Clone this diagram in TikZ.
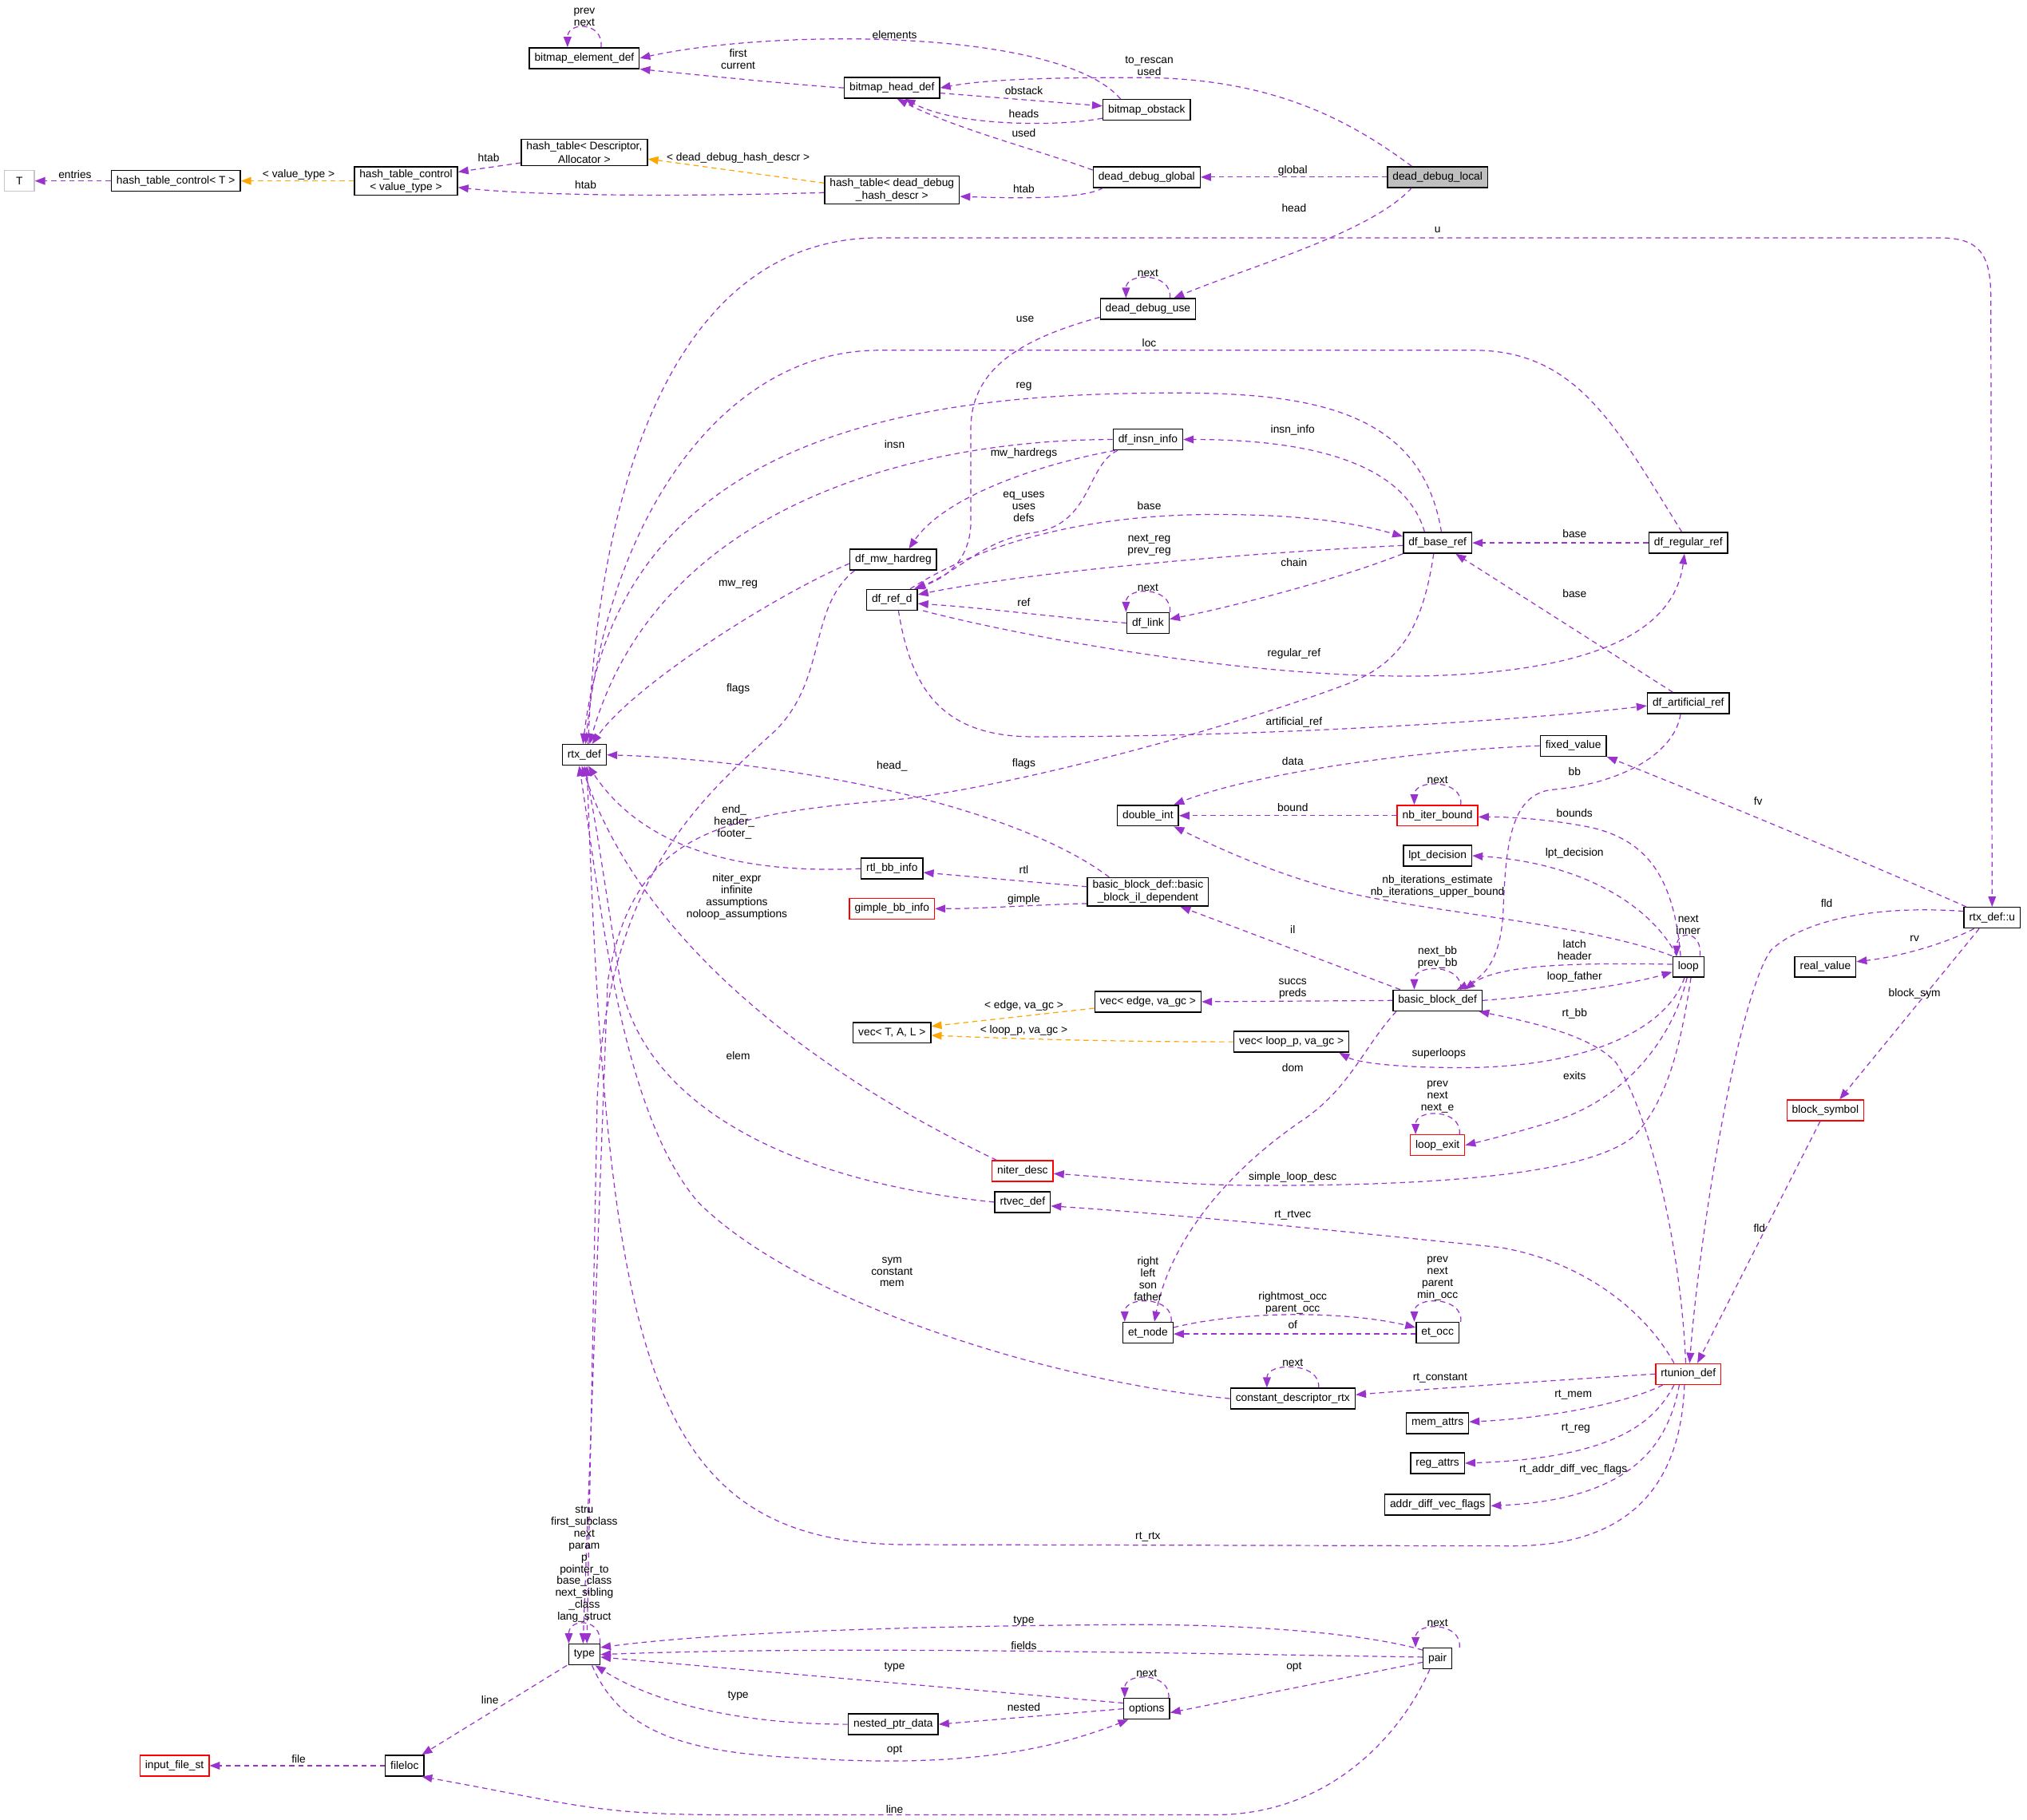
\documentclass[tikz,border=0pt]{standalone}
\usepackage{fontspec}
\setmainfont{Liberation Sans}
\usepackage{tikz}
\usetikzlibrary{arrows.meta}

\definecolor{memberpurple}{HTML}{9A32CD}
\definecolor{templorange}{HTML}{FFA500}
\definecolor{focusgray}{HTML}{BFBFBF}

\tikzset{
  cls/.style={draw=black, line width=0.9pt, fill=white, font=\fontsize{8.5}{10}\selectfont,
    inner xsep=4pt, inner ysep=2pt, minimum height=16pt, align=center},
  redcls/.style={cls, draw=red},
  dep/.style={draw=memberpurple, line width=0.75pt, dash pattern=on 4pt off 3pt,
    -{Triangle[length=8pt,width=6pt]}},
  tmpl/.style={dep, draw=templorange},
  lbl/.style={font=\fontsize{8.5}{9.2}\selectfont, align=center, inner sep=0pt},
}

% member loop on top of a class box
\newcommand{\selfloop}[3][17pt]{%
  \draw[dep] ([xshift=#1]#2.north) .. controls +(2pt,20pt) and +(0pt,20pt) .. ([xshift=-#1]#2.north)
    node[lbl, anchor=south] at ([yshift=16pt]#2.north) {#3};}

\begin{document}
\begin{tikzpicture}[x=1pt, y=-1pt]
\fill[white] (0,0) rectangle (1568,1408);
\useasboundingbox (0,0) rectangle (1568,1408);

% classes
\node[cls] (bed) at (452,45) {bitmap\_element\_def};
\node[cls] (bhd) at (690,68) {bitmap\_head\_def};
\node[cls] (bob) at (887,85) {bitmap\_obstack};
\node[cls] (ddg) at (887,137) {dead\_debug\_global};
\node[cls, fill=focusgray] (ddl) at (1112,137) {dead\_debug\_local};
\node[cls] (htda) at (452,118) {hash\_table< Descriptor,\\Allocator >};
\node[cls] (htdd) at (690,147) {hash\_table< dead\_debug\\\_hash\_descr >};
\node[cls] (htcv) at (314,140) {hash\_table\_control\\< value\_type >};
\node[cls] (htct) at (136,140) {hash\_table\_control< T >};
\node[cls, draw=gray!45, minimum width=23pt] (T) at (15,140) {T};
\node[cls] (ddu) at (888,239) {dead\_debug\_use};
\node[cls] (rtx) at (452,584) {rtx\_def};
\node[cls] (rtxu) at (1541,710) {rtx\_def::u};
\node[cls] (dii) at (888,340) {df\_insn\_info};
\node[cls] (dmh) at (691,433) {df\_mw\_hardreg};
\node[cls] (drd) at (690,464) {df\_ref\_d};
\node[cls] (dbr) at (1112,420) {df\_base\_ref};
\node[cls] (drr) at (1306,420) {df\_regular\_ref};
\node[cls] (dlk) at (888,482) {df\_link};
\node[cls] (dar) at (1306,544) {df\_artificial\_ref};
\node[cls] (fxv) at (1217,577) {fixed\_value};
\node[cls] (dbi) at (888,631) {double\_int};
\node[redcls] (nib) at (1112,631) {nb\_iter\_bound};
\node[cls] (lpt) at (1112,662) {lpt\_decision};
\node[cls] (rbi) at (690,672) {rtl\_bb\_info};
\node[redcls] (gbi) at (690,703) {gimple\_bb\_info};
\node[cls] (bbil) at (888,690) {basic\_block\_def::basic\\\_block\_il\_dependent};
\node[cls] (vedge) at (888,775) {vec< edge, va\_gc >};
\node[cls] (vtal) at (690,799) {vec< T, A, L >};
\node[cls] (vloop) at (999,806) {vec< loop\_p, va\_gc >};
\node[cls] (bbd) at (1112,774) {basic\_block\_def};
\node[cls] (loop) at (1306,748) {loop};
\node[cls] (rval) at (1412,748) {real\_value};
\node[redcls] (bsym) at (1412,859) {block\_symbol};
\node[redcls] (lex) at (1112,886) {loop\_exit};
\node[redcls] (nid) at (791,906) {niter\_desc};
\node[cls] (rtv) at (791,930) {rtvec\_def};
\node[cls] (etn) at (888,1031) {et\_node};
\node[cls] (eto) at (1112,1031) {et\_occ};
\node[cls] (cdr) at (1000,1082) {constant\_descriptor\_rtx};
\node[redcls] (rtu) at (1306,1063) {rtunion\_def};
\node[cls] (mema) at (1112,1101) {mem\_attrs};
\node[cls] (rega) at (1112,1132) {reg\_attrs};
\node[cls] (adv) at (1112,1164) {addr\_diff\_vec\_flags};
\node[cls] (type) at (452,1280) {type};
\node[cls] (pair) at (1112,1283) {pair};
\node[cls] (opts) at (887,1322) {options};
\node[cls] (npd) at (691,1334) {nested\_ptr\_data};
\node[cls] (floc) at (313,1366) {fileloc};
\node[redcls] (ifs) at (135,1366) {input\_file\_st};

% bitmaps and hash tables
\selfloop[13pt]{bed}{prev\\next}
\draw[dep] ([xshift=14pt]bob.north west) .. controls (820,22) and (600,22) .. (bed.east) node[lbl] at (692,27) {elements};
\draw[dep] (bhd.west) .. controls (620,66) and (540,58) .. (bed.south east) node[lbl] at (571,46) {first\\current};
\draw[dep] ([xshift=-20pt]ddl.north) .. controls (1040,90) and (980,60) .. (880,60) .. controls (800,60) and (760,62) .. (bhd.east)
  node[lbl] at (889,51) {to\_rescan\\used};
\draw[dep] ([yshift=-4pt]bhd.east) -- ([yshift=3pt]bob.west) node[lbl] at (792,70) {obstack};
\draw[dep] ([yshift=2pt]bob.south west) .. controls (820,98) and (740,98) .. ([xshift=10pt]bhd.south) node[lbl] at (792,88) {heads};
\draw[dep] ([yshift=-3pt]ddg.north west) .. controls (800,115) and (740,100) .. ([xshift=4pt]bhd.south) node[lbl] at (792,103) {used};
\draw[dep] (ddl.west) -- (ddg.east) node[lbl] at (1000,132) {global};
\draw[dep] ([xshift=8pt]ddg.south west) .. controls (840,153) and (800,154) .. ([yshift=-5pt]htdd.east) node[lbl] at (792,146) {htab};
\draw[tmpl] ([yshift=-6pt]htdd.north west) -- ([yshift=-5pt]htda.east) node[lbl] at (571,122) {< dead\_debug\_hash\_descr >};
\draw[dep] ([yshift=-2pt]htdd.west) .. controls (540,152) and (420,152) .. ([yshift=-5pt]htcv.east) node[lbl] at (453,143) {htab};
\draw[dep] ([yshift=-8pt]htda.west) -- ([yshift=7pt]htcv.east) node[lbl] at (378,122) {htab};
\draw[tmpl] (htcv.west) -- (htct.east) node[lbl] at (231,135) {< value\_type >};
\draw[dep] (htct.west) -- (T.east) node[lbl] at (58,135) {entries};
\draw[dep] ([xshift=-20pt]ddl.south) .. controls (1060,180) and (970,205) .. ([xshift=20pt]ddu.north) node[lbl] at (1001,161) {head};
\selfloop{ddu}{next}
\draw[dep] ([yshift=2pt]ddu.south west) .. controls (790,262) and (752,285) .. (751,330) -- (751,405)
  .. controls (750,435) and (730,448) .. ([xshift=-3pt]drd.north east) node[lbl] at (793,247) {use};

% everything that reaches rtx_def
\draw[dep] ([xshift=3pt]rtx.north) .. controls (462,380) and (520,184) .. (680,184) -- (1500,184)
  .. controls (1530,184) and (1540,195) .. (1540,230) -- (rtxu.north) node[lbl] at (1112,178) {u};
\draw[dep] ([xshift=-5pt]drr.north) .. controls (1250,330) and (1220,271) .. (1140,271) -- (680,271)
  .. controls (560,271) and (470,400) .. ([xshift=1pt]rtx.north) node[lbl] at (889,265) {loc};
\draw[dep] ([xshift=3pt]dbr.north) .. controls (1100,320) and (1020,304) .. (910,304)
  .. controls (720,304) and (480,330) .. ([xshift=-1pt]rtx.north) node[lbl] at (792,299) {reg};
\draw[dep] (dii.west) .. controls (720,340) and (510,385) .. ([xshift=4pt]rtx.north) node[lbl] at (692,344) {insn};
\draw[dep] ([yshift=-3pt]dmh.west) .. controls (600,460) and (490,530) .. ([xshift=6pt]rtx.north) node[lbl] at (571,452) {mw\_reg};
\draw[dep] ([xshift=-30pt]bbil.north) .. controls (780,620) and (600,588) .. (rtx.east) node[lbl] at (690,593) {head\_};
\draw[dep] (rbi.west) .. controls (580,676) and (500,660) .. ([xshift=3pt]rtx.south) node[lbl] at (568,636) {end\_\\header\_\\footer\_};
\draw[dep] ([xshift=4pt]nid.north west) .. controls (650,840) and (500,740) .. ([xshift=-2pt]rtx.south)
  node[lbl] at (570,694) {niter\_expr\\infinite\\assumptions\\noloop\_assumptions};
\draw[dep] (rtv.west) .. controls (620,915) and (500,860) .. (480,760) .. controls (470,700) and (462,640) .. (rtx.south)
  node[lbl] at (571,817) {elem};
\draw[dep] (cdr.west) .. controls (820,1070) and (620,1010) .. (540,930) .. controls (480,860) and (465,700) .. ([xshift=-4pt]rtx.south)
  node[lbl] at (690,984) {sym\\constant\\mem};
\draw[dep] ([xshift=-3pt]rtu.south) .. controls (1300,1150) and (1260,1196) .. (1170,1196) -- (700,1195)
  .. controls (500,1193) and (470,1050) .. ([xshift=2pt]rtx.south) node[lbl] at (888,1189) {rt\_rtx};

% df refs
\draw[dep] ([xshift=2pt]dii.south west) .. controls (800,360) and (730,385) .. ([xshift=12pt]dmh.north) node[lbl] at (792,351) {mw\_hardregs};
\draw[dep] ([xshift=4pt]dii.south west) .. controls (840,360) and (845,405) .. (800,412) .. controls (760,418) and (745,440) .. ([xshift=-2pt]drd.north east)
  node[lbl] at (792,392) {eq\_uses\\uses\\defs};
\draw[dep] ([xshift=-10pt]dbr.north) .. controls (1090,370) and (1040,340) .. (dii.east) node[lbl] at (1000,333) {insn\_info};
\draw[dep] ([xshift=-6pt]drd.north east) .. controls (760,420) and (840,398) .. (940,398) .. controls (1010,398) and (1050,405) .. ([yshift=5pt]dbr.west)
  node[lbl] at (889,391) {base};
\draw[dep] ([yshift=-2pt]dbr.west) .. controls (960,428) and (800,442) .. ([yshift=4pt]drd.east) node[lbl] at (889,422) {next\_reg\\prev\_reg};
\draw[dep] (dbr.south west) .. controls (1030,450) and (950,470) .. ([yshift=3pt]dlk.east) node[lbl] at (1001,435) {chain};
\draw[dep] (dlk.west) .. controls (820,478) and (760,470) .. ([yshift=-3pt]drd.east) node[lbl] at (792,466) {ref};
\selfloop{dlk}{next}
\draw[dep] (drr.west) -- (dbr.east) node[lbl] at (1218,413) {base};
\draw[dep] ([xshift=4pt]drd.south east) .. controls (780,490) and (960,525) .. (1100,523) .. controls (1230,520) and (1295,490) .. ([xshift=-3pt]drr.south)
  node[lbl] at (1001,506) {regular\_ref};
\draw[dep] ([xshift=5pt]drd.south) .. controls (705,535) and (730,570) .. (800,570) .. controls (1000,570) and (1200,555) .. ([yshift=-2pt]dar.west)
  node[lbl] at (1001,559) {artificial\_ref};
\draw[dep] ([xshift=-12pt]dar.north) -- ([xshift=14pt]dbr.south) node[lbl] at (1218,459) {base};
\draw[dep] ([xshift=4pt]dmh.south west) .. controls (625,470) and (640,525) .. (600,565) .. controls (540,620) and (470,680) .. (462,850)
  -- ([xshift=2pt]type.north) node[lbl] at (571,533) {flags};
\draw[dep] ([xshift=-3pt]dbr.south) .. controls (1100,490) and (1080,515) .. (1040,530) .. controls (960,560) and (800,605) .. (700,618)
  .. controls (560,630) and (490,640) .. (470,760) -- ([xshift=-1pt]type.north) node[lbl] at (792,591) {flags};

% blocks and loops
\draw[dep] ([xshift=-6pt]dar.south) .. controls (1295,585) and (1250,607) .. (1200,611) .. controls (1170,615) and (1165,650) .. (1163,700)
  .. controls (1162,740) and (1150,755) .. ([xshift=-20pt]bbd.north east) node[lbl] at (1218,597) {bb};
\draw[dep] (fxv.west) .. controls (1100,580) and (970,598) .. ([xshift=-4pt]dbi.north east) node[lbl] at (1000,589) {data};
\draw[dep] (nib.west) -- (dbi.east) node[lbl] at (1000,625) {bound};
\selfloop[18pt]{nib}{next}
\draw[dep] (loop.north west) .. controls (1230,715) and (1100,705) .. (1040,690) .. controls (980,675) and (930,650) .. ([xshift=-4pt]dbi.south east)
  node[lbl] at (1112,686) {nb\_iterations\_estimate\\nb\_iterations\_upper\_bound};
\draw[dep] ([xshift=-6pt]loop.north) .. controls (1295,680) and (1275,650) .. (1230,640) .. controls (1200,634) and (1170,632) .. ([yshift=-1pt]nib.east)
  node[lbl] at (1218,629) {bounds};
\draw[dep] ([xshift=-9pt]loop.north) .. controls (1280,705) and (1230,668) .. (lpt.east) node[lbl] at (1218,660) {lpt\_decision};
\selfloop[9pt]{loop}{next\\inner}
\draw[dep] ([yshift=2pt]loop.west) .. controls (1230,745) and (1160,745) .. ([xshift=-14pt]bbd.north east) node[lbl] at (1218,735) {latch\\header};
\draw[dep] (bbd.east) .. controls (1200,770) and (1260,762) .. ([yshift=-4pt]loop.west) node[lbl] at (1218,756) {loop\_father};
\selfloop[18pt]{bbd}{next\_bb\\prev\_bb}
\draw[dep] ([xshift=6pt]bbd.north west) -- ([xshift=25pt]bbil.south) node[lbl] at (1000,719) {il};
\draw[dep] ([yshift=4pt]bbil.west) -- ([yshift=-3pt]rbi.east) node[lbl] at (792,673) {rtl};
\draw[dep] ([yshift=-9pt]bbil.west) .. controls (800,700) and (760,703) .. (gbi.east) node[lbl] at (792,696) {gimple};
\draw[dep] (bbd.west) -- (vedge.east) node[lbl] at (1000,765) {succs\\preds};
\draw[tmpl] ([yshift=-5pt]vedge.west) -- ([yshift=5pt]vtal.east) node[lbl] at (792,778) {< edge, va\_gc >};
\draw[tmpl] (vloop.west) .. controls (850,806) and (770,803) .. ([yshift=-2pt]vtal.east) node[lbl] at (792,797) {< loop\_p, va\_gc >};
\draw[dep] ([xshift=-3pt]loop.south) .. controls (1290,795) and (1230,826) .. (1130,826) .. controls (1080,826) and (1050,822) .. ([xshift=-8pt]vloop.south east)
  node[lbl] at (1113,815) {superloops};
\draw[dep] ([xshift=3pt]bbd.south west) .. controls (1055,810) and (1045,840) .. (1010,865) .. controls (950,905) and (905,960) .. ([xshift=5pt]etn.north)
  node[lbl] at (1000,826) {dom};
\draw[dep] ([xshift=-1pt]loop.south) .. controls (1295,800) and (1260,850) .. (1200,868) .. controls (1170,877) and (1150,882) .. (lex.east)
  node[lbl] at (1218,832) {exits};
\selfloop{lex}{prev\\next\\next\_e}
\draw[dep] ([xshift=2pt]loop.south) .. controls (1300,810) and (1290,850) .. (1265,878) .. controls (1230,910) and (1100,918) .. (960,917)
  .. controls (900,916) and (850,910) .. ([yshift=-2pt]nid.east) node[lbl] at (1000,911) {simple\_loop\_desc};

% rtx_def::u and rtunion_def
\draw[dep] ([yshift=5pt]rtxu.west) .. controls (1450,700) and (1395,712) .. (1370,735) .. controls (1345,770) and (1315,950) .. ([xshift=1pt]rtu.north)
  node[lbl] at (1413,699) {fld};
\draw[dep] ([xshift=-4pt]bsym.south) -- ([xshift=7pt]rtu.north) node[lbl] at (1361,950) {fld};
\draw[dep] ([xshift=-10pt]rtxu.south) -- ([xshift=11pt]bsym.north) node[lbl] at (1481,769) {block\_sym};
\draw[dep] ([xshift=-14pt]rtxu.south) .. controls (1505,730) and (1470,740) .. ([yshift=4pt]rval.east) node[lbl] at (1481,726) {rv};
\draw[dep] ([xshift=-20pt]rtxu.north) .. controls (1450,670) and (1330,620) .. (fxv.south east) node[lbl] at (1360,620) {fv};
\draw[dep] ([xshift=-2pt]rtu.north) .. controls (1300,960) and (1275,860) .. (1250,822) .. controls (1230,800) and (1180,790) .. ([xshift=-3pt]bbd.south east)
  node[lbl] at (1218,784) {rt\_bb};
\draw[dep] ([xshift=-11pt]rtu.north) .. controls (1270,1010) and (1220,975) .. (1160,965) .. controls (1060,955) and (920,940) .. ([yshift=-3pt]rtv.east)
  node[lbl] at (1000,940) {rt\_rtvec};
\draw[dep] (rtu.west) .. controls (1200,1068) and (1100,1075) .. ([yshift=3pt]cdr.east) node[lbl] at (1114,1066) {rt\_constant};
\selfloop[20pt]{cdr}{next}
\draw[dep] ([xshift=6pt]rtu.south west) .. controls (1260,1085) and (1200,1097) .. ([yshift=1pt]mema.east) node[lbl] at (1217,1079) {rt\_mem};
\draw[dep] ([xshift=-11pt]rtu.south) .. controls (1280,1100) and (1250,1128) .. (rega.east) node[lbl] at (1219,1105) {rt\_reg};
\draw[dep] ([xshift=-7pt]rtu.south) .. controls (1290,1120) and (1260,1160) .. ([yshift=-1pt]adv.east) node[lbl] at (1217,1137) {rt\_addr\_diff\_vec\_flags};

% et tree
\selfloop[18pt]{etn}{right\\left\\son\\father}
\selfloop[18pt]{eto}{prev\\next\\parent\\min\_occ}
\draw[dep] ([yshift=4pt]etn.east) .. controls (960,1014) and (1040,1014) .. ([yshift=4pt]eto.west) node[lbl] at (1000,1008) {rightmost\_occ\\parent\_occ};
\draw[dep] ([yshift=-1pt]eto.west) -- ([yshift=-1pt]etn.east) node[lbl] at (1000,1025) {of};

% gengtype types
\selfloop[12pt]{type}{stru\\first\_subclass\\next\\param\\p\\pointer\_to\\base\_class\\next\_sibling\\\_class\\lang\_struct}
\selfloop{opts}{next}
\selfloop{pair}{next}
\draw[dep] ([yshift=-2pt]pair.north west) .. controls (1050,1262) and (950,1256) .. (860,1257) .. controls (720,1258) and (560,1262) .. ([yshift=-3pt]type.north east)
  node[lbl] at (792,1254) {type};
\draw[dep] ([yshift=1pt]pair.west) .. controls (900,1279) and (650,1273) .. (type.east) node[lbl] at (792,1273) {fields};
\draw[dep] ([yshift=-4pt]opts.north west) -- ([yshift=-2pt]type.east) node[lbl] at (692,1290) {type};
\draw[dep] (npd.west) .. controls (580,1334) and (510,1320) .. ([xshift=-4pt]type.south east) node[lbl] at (571,1312) {type};
\draw[dep] ([xshift=6pt]type.south) .. controls (480,1340) and (530,1356) .. (620,1360) .. controls (740,1368) and (810,1355) .. ([xshift=4pt]opts.south west)
  node[lbl] at (692,1354) {opt};
\draw[dep] (opts.west) -- (npd.east) node[lbl] at (792,1321) {nested};
\draw[dep] ([yshift=-3pt]pair.west) -- ([yshift=-3pt]opts.east) node[lbl] at (1001,1290) {opt};
\draw[dep] ([xshift=-1pt]type.south west) -- ([xshift=-2pt]floc.north east) node[lbl] at (379,1315) {line};
\draw[dep] (floc.west) -- (ifs.east) node[lbl] at (231,1361) {file};
\draw[dep] ([xshift=-6pt]pair.south) .. controls (1085,1340) and (1030,1404) .. (940,1404) -- (560,1404)
  .. controls (460,1404) and (440,1395) .. ([xshift=-2pt]floc.south east) node[lbl] at (692,1400) {line};
\end{tikzpicture}
\end{document}
